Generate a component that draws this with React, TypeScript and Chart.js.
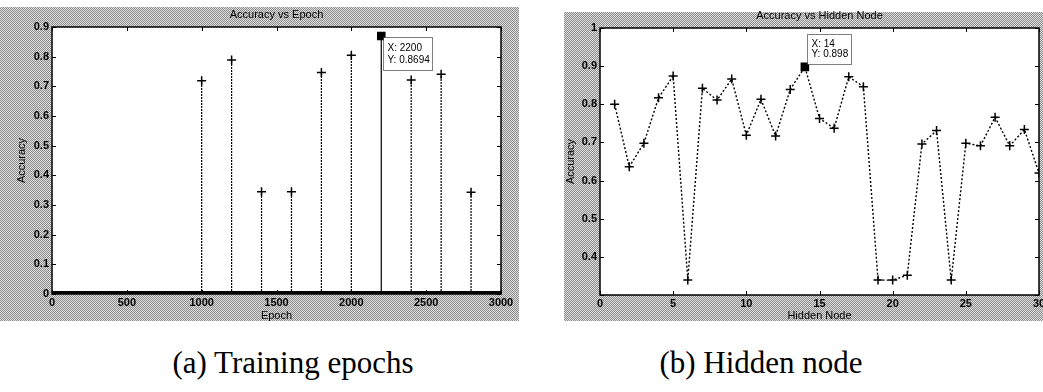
import React, { useEffect, useRef } from 'react';
import { Chart, registerables } from 'chart.js';

Chart.register(...registerables);

// ---- (a) Accuracy vs Epoch ----
const EPOCHS = [1000, 1200, 1400, 1600, 1800, 2000, 2200, 2400, 2600, 2800];
const EPOCH_ACC = [0.719, 0.789, 0.345, 0.345, 0.747, 0.805, 0.8694, 0.721, 0.741, 0.343];
const EPOCH_RANGE = [0, 3000];
const EPOCH_STEP = 500;
const EPOCH_Y_RANGE = [0, 0.9];
const EPOCH_CURSOR = 2200;
const EPOCH_CURSOR_LINES = ['X: 2200', 'Y: 0.8694'];

// ---- (b) Accuracy vs Hidden Node ----
const NODES = [1, 2, 3, 4, 5, 6, 7, 8, 9, 10, 11, 12, 13, 14, 15, 16, 17, 18, 19, 20, 21, 22, 23, 24, 25, 26, 27, 28, 29, 30];
const NODE_ACC = [0.80, 0.636, 0.698, 0.817, 0.874, 0.339, 0.842, 0.811, 0.866, 0.719, 0.813, 0.717, 0.839, 0.898, 0.763, 0.737, 0.872, 0.846, 0.339, 0.339, 0.352, 0.696, 0.731, 0.339, 0.698, 0.691, 0.766, 0.691, 0.734, 0.62];
const NODE_RANGE = [0, 30];
const NODE_STEP = 5;
const NODE_Y_RANGE = [0.3, 1];
const NODE_CURSOR = 14;
const NODE_CURSOR_LINES = ['X: 14', 'Y: 0.898'];

const TICK_FONT = { family: "'Liberation Sans', Arial, sans-serif", size: 11, weight: 'bold' as const };
const LABEL_FONT = { family: "'Liberation Sans', Arial, sans-serif", size: 11, weight: 'normal' as const };
const PATTERN = 'repeating-conic-gradient(#8c8c8c 0% 25%, #dedede 0% 50%) 0 0 / 2px 2px';

const fmt = (v: any) => String(Math.round(Number(v) * 10) / 10);

const decor = {
  id: 'decor',
  beforeDatasetsDraw(chart: any) {
    const { ctx, chartArea: a } = chart;
    ctx.save();
    ctx.fillStyle = '#ffffff';
    ctx.fillRect(a.left, a.top, a.right - a.left, a.bottom - a.top);
    ctx.restore();
  },
  afterDraw(chart: any, _args: any, opts: any) {
    const { ctx, chartArea: a, scales } = chart;
    ctx.save();
    ctx.strokeStyle = '#000';
    ctx.lineWidth = 1;
    const tl = 4;
    for (const t of scales.x.ticks) {
      const px = Math.round(scales.x.getPixelForValue(t.value)) + 0.5;
      ctx.beginPath();
      ctx.moveTo(px, a.top); ctx.lineTo(px, a.top + tl);
      ctx.moveTo(px, a.bottom); ctx.lineTo(px, a.bottom - tl);
      ctx.stroke();
    }
    for (const t of scales.y.ticks) {
      const py = Math.round(scales.y.getPixelForValue(t.value)) + 0.5;
      ctx.beginPath();
      ctx.moveTo(a.left, py); ctx.lineTo(a.left + tl, py);
      ctx.moveTo(a.right, py); ctx.lineTo(a.right - tl, py);
      ctx.stroke();
    }
    ctx.lineWidth = 1.5;
    ctx.strokeRect(a.left, a.top, a.right - a.left, a.bottom - a.top);
    // title
    ctx.fillStyle = '#000';
    ctx.font = "11px 'Liberation Sans', Arial, sans-serif";
    ctx.textAlign = 'center';
    ctx.textBaseline = 'middle';
    ctx.fillText(opts.title, (a.left + a.right) / 2, a.top - 12);
    // data cursor
    const c = opts.cursor;
    const px = scales.x.getPixelForValue(c.x);
    const py = scales.y.getPixelForValue(c.y);
    const bx = Math.round(px + c.dx) + 0.5;
    const by = Math.round(py + c.dy) + 0.5;
    ctx.fillStyle = '#ffffff';
    ctx.fillRect(bx, by, c.w, c.h);
    ctx.setLineDash([1, 1]);
    ctx.lineWidth = 1;
    ctx.strokeRect(bx, by, c.w, c.h);
    ctx.setLineDash([]);
    ctx.fillStyle = '#000';
    ctx.font = "10px 'Liberation Sans', Arial, sans-serif";
    ctx.textAlign = 'left';
    c.lines.forEach((s: string, i: number) => {
      ctx.fillText(s, bx + 4, by + c.first + i * c.gap);
    });
    ctx.restore();
  },
};

function axisX(range: number[], step: number, title: string, height: number) {
  return {
    type: 'linear' as const,
    min: range[0],
    max: range[1],
    grid: { display: false, drawTicks: false, tickLength: 0 },
    border: { display: false },
    ticks: { stepSize: step, font: TICK_FONT, color: '#000', padding: 2, maxRotation: 0, autoSkip: false, callback: (v: any) => String(v) },
    title: { display: true, text: title, font: LABEL_FONT, color: '#000', padding: { top: 0, bottom: 7 } },
    afterFit(s: any) { s.height = height; },
  };
}

function axisY(range: number[], title: string, width: number, titlePad: number, hideBelow: number) {
  return {
    type: 'linear' as const,
    min: range[0],
    max: range[1],
    grid: { display: false, drawTicks: false, tickLength: 0 },
    border: { display: false },
    ticks: {
      stepSize: 0.1, font: TICK_FONT, color: '#000', padding: 3, autoSkip: false,
      callback: (v: any) => (Number(v) < hideBelow ? '' : fmt(v)),
    },
    title: { display: true, text: title, font: LABEL_FONT, color: '#000', padding: { top: titlePad, bottom: 0 } },
    afterFit(s: any) { s.width = width; },
  };
}

function EpochChart() {
  const ref = useRef<HTMLCanvasElement>(null);
  useEffect(() => {
    const datasets: any[] = [
      {
        data: [{ x: EPOCH_RANGE[0], y: 0 }, { x: EPOCH_RANGE[1], y: 0 }],
        showLine: true, borderColor: '#000', borderWidth: 6, pointRadius: 0,
      },
    ];
    EPOCHS.forEach((e, i) => {
      const isCur = e === EPOCH_CURSOR;
      datasets.push({
        data: [{ x: e, y: 0 }, { x: e, y: EPOCH_ACC[i] }],
        showLine: true,
        borderColor: '#000',
        borderWidth: 1.2,
        borderDash: isCur ? [] : [2, 1],
        pointRadius: [0, isCur ? 5 : 4.5],
        pointStyle: isCur ? 'rect' : 'cross',
        pointBorderColor: '#000',
        pointBackgroundColor: '#000',
        pointBorderWidth: 1.5,
      });
    });
    const chart = new Chart(ref.current!, {
      type: 'scatter',
      data: { datasets },
      options: {
        animation: false,
        responsive: false,
        devicePixelRatio: 1,
        layout: { padding: { top: 27, right: 18, left: 0, bottom: 0 } },
        scales: {
          x: axisX(EPOCH_RANGE, EPOCH_STEP, 'Epoch', 36),
          y: axisY(EPOCH_Y_RANGE, 'Accuracy', 52, 15, -1),
        },
        plugins: {
          legend: { display: false },
          tooltip: { enabled: false },
          decor: {
            title: 'Accuracy vs Epoch',
            cursor: { x: EPOCH_CURSOR, y: EPOCH_ACC[EPOCHS.indexOf(EPOCH_CURSOR)], lines: EPOCH_CURSOR_LINES, dx: 2, dy: 1, w: 49, h: 33, first: 11, gap: 12 },
          },
        } as any,
      },
      plugins: [decor],
    });
    return () => chart.destroy();
  }, []);
  return <canvas ref={ref} width={519} height={330} style={{ position: 'absolute', left: 0, top: 0 }} />;
}

function NodeChart() {
  const ref = useRef<HTMLCanvasElement>(null);
  useEffect(() => {
    const ci = NODES.indexOf(NODE_CURSOR);
    const chart = new Chart(ref.current!, {
      type: 'scatter',
      data: {
        datasets: [
          {
            data: NODES.map((n, i) => ({ x: n, y: NODE_ACC[i] })),
            showLine: true,
            borderColor: '#000',
            borderWidth: 1.4,
            borderDash: [2, 2],
            pointRadius: NODES.map((_, i) => (i === ci ? 5 : 4.5)),
            pointStyle: NODES.map((_, i) => (i === ci ? 'rect' : 'cross')) as any,
            pointBorderColor: '#000',
            pointBackgroundColor: '#000',
            pointBorderWidth: 1.5,
          },
        ],
      },
      options: {
        animation: false,
        responsive: false,
        devicePixelRatio: 1,
        layout: { padding: { top: 28, right: 21, left: 0, bottom: 0 } },
        scales: {
          x: axisX(NODE_RANGE, NODE_STEP, 'Hidden Node', 35),
          y: axisY(NODE_Y_RANGE, 'Accuracy', 60, 24, 0.35),
        },
        plugins: {
          legend: { display: false },
          tooltip: { enabled: false },
          decor: {
            title: 'Accuracy vs Hidden Node',
            cursor: { x: NODE_CURSOR, y: NODE_ACC[ci], lines: NODE_CURSOR_LINES, dx: 2, dy: -33, w: 44, h: 30, first: 10, gap: 10 },
          },
        } as any,
      },
      plugins: [decor],
    });
    return () => chart.destroy();
  }, []);
  return <canvas ref={ref} width={520} height={330} style={{ position: 'absolute', left: 540, top: 0 }} />;
}

const captionStyle: React.CSSProperties = {
  position: 'absolute',
  top: 345,
  fontFamily: "'Liberation Serif', 'Times New Roman', serif",
  fontSize: 31,
  color: '#000',
  textAlign: 'center',
  whiteSpace: 'nowrap',
  lineHeight: 'normal',
};

export default function App() {
  return (
    <div style={{ position: 'fixed', left: 0, top: 0, width: 1043, height: 392, overflow: 'hidden', background: '#fff' }}>
      <div style={{ position: 'absolute', left: 0, top: 7, width: 519, height: 314, background: PATTERN }} />
      <div style={{ position: 'absolute', left: 564, top: 12, width: 479, height: 309, background: PATTERN }} />
      <EpochChart />
      <NodeChart />
      <div style={{ ...captionStyle, left: 143, width: 300 }}>(a) Training epochs</div>
      <div style={{ ...captionStyle, left: 611, width: 300 }}>(b) Hidden node</div>
    </div>
  );
}
